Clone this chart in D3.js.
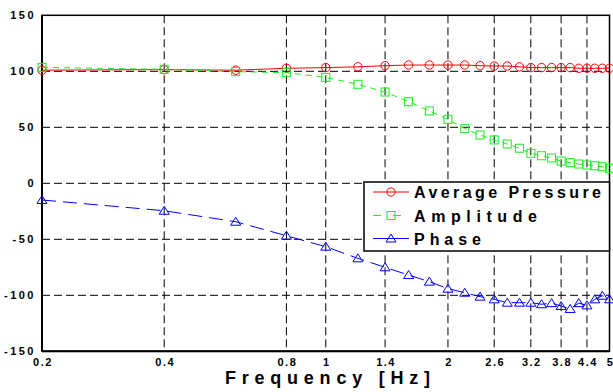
<!DOCTYPE html>
<html>
<head>
<meta charset="utf-8">
<script src="https://cdn.jsdelivr.net/npm/d3@7"></script>
<style>
  body { margin: 0; background: #fff; }
  text { font-family: Arial, "Liberation Sans", sans-serif; font-weight: bold; }
</style>
</head>
<body>
<div id="chart"></div>
<script>
// data
const freq = [0.2, 0.4, 0.6, 0.8, 1.0, 1.2, 1.4, 1.6, 1.8, 2.0, 2.2, 2.4, 2.6,
  2.8, 3.0, 3.2, 3.4, 3.6, 3.8, 4.0, 4.2, 4.4, 4.6, 4.8, 5.0];
const avgPressure = [101, 101.5, 101, 102.7, 103.3, 104, 105, 105.6, 105.6, 105.6,
  105.6, 105, 104.7, 104.7, 104, 103.3, 103.3, 103.3, 103.3, 103.3, 102.7, 102.7, 102.7, 102.7, 102.7];
const amplitude = [103.5, 101.8, 99.7, 98.8, 94.6, 88.4, 81.5, 72.9, 64.6, 57.1,
  48.8, 43.1, 38.7, 35.1, 31.3, 26.8, 24.6, 22.6, 19.9, 18.4, 17.2, 16.3, 15.7, 14.8, 13.4];
const phase = [-14.9, -24.5, -34.3, -46.8, -56.6, -67, -75, -81.9, -87.8, -94.1,
  -97.7, -101.2, -103.6, -106.6, -106.6, -106.6, -108, -107, -109.6, -112.2, -107, -109, -103.6, -100.4, -103.6];
const xTicks = [0.2, 0.4, 0.8, 1, 1.4, 2, 2.6, 3.2, 3.8, 4.4, 5];
const yTicks = [-150, -100, -50, 0, 50, 100, 150];

const width = 613, height = 392;
const svg = d3.select("#chart").append("svg")
  .attr("width", width).attr("height", height);

const x = d3.scaleLog().domain([0.2, 5]).range([42, 609.5]);
const y = d3.scaleLinear().domain([-150, 150]).range([351.3, 15.3]);

// grid
svg.append("g").selectAll("line.vg")
  .data(xTicks.filter(d => d > 0.2 && d < 5))
  .join("line")
  .attr("x1", d => x(d)).attr("x2", d => x(d))
  .attr("y1", y(150)).attr("y2", y(-150))
  .attr("stroke", "#000").attr("stroke-dasharray", "8,4");
svg.append("g").selectAll("line.hg")
  .data(yTicks.filter(d => d > -150 && d < 150))
  .join("line")
  .attr("x1", x(0.2)).attr("x2", x(5))
  .attr("y1", d => y(d)).attr("y2", d => y(d))
  .attr("stroke", "#000").attr("stroke-dasharray", "8,4");

// frame
svg.append("rect")
  .attr("x", x(0.2)).attr("y", y(150))
  .attr("width", x(5) - x(0.2)).attr("height", y(-150) - y(150))
  .attr("fill", "none").attr("stroke", "#000").attr("stroke-width", 1.5);
svg.append("line").attr("x1", x(0.2)).attr("x2", x(0.2))
  .attr("y1", y(150)).attr("y2", y(-150)).attr("stroke", "#000").attr("stroke-width", 2);
svg.append("line").attr("x1", x(0.2)).attr("x2", x(5))
  .attr("y1", y(-150)).attr("y2", y(-150)).attr("stroke", "#000").attr("stroke-width", 2);

// tick labels
svg.append("g").selectAll("text")
  .data(yTicks).join("text")
  .attr("x", 36).attr("y", d => y(d) + 4)
  .attr("text-anchor", "end")
  .attr("font-size", 11).attr("letter-spacing", 2.5)
  .text(d => d);
svg.append("g").selectAll("text")
  .data(xTicks).join("text")
  .attr("x", d => x(d) + 1).attr("y", 366)
  .attr("text-anchor", "middle")
  .attr("font-size", 11).attr("letter-spacing", 1.5)
  .text(d => d);

svg.append("text")
  .attr("x", 225).attr("y", 384)
  .attr("font-size", 18)
  .attr("textLength", 205).attr("lengthAdjust", "spacing")
  .text("Frequency [Hz]");

// series
const series = [
  { name: "Average Pressure", values: avgPressure, color: "#ff0000", dash: null, shape: "circle" },
  { name: "Amplitude", values: amplitude, color: "#19f019", dash: "6,5", shape: "square" },
  { name: "Phase", values: phase, color: "#0000ff", dash: "14,7", shape: "triangle" }
];

const line = d3.line().x(d => x(d[0])).y(d => y(d[1]));

function marker(g, shape, color) {
  if (shape === "circle") {
    g.append("circle").attr("r", 4.2);
  } else if (shape === "square") {
    g.append("rect").attr("x", -4).attr("y", -4).attr("width", 8).attr("height", 8);
  } else {
    g.append("path").attr("d", "M0,-4.5L5,3.5L-5,3.5Z");
  }
  g.selectAll("*").attr("fill", "none").attr("stroke", color).attr("stroke-width", 1);
}

series.forEach(s => {
  const pts = freq.map((f, i) => [f, s.values[i]]);
  svg.append("path")
    .attr("d", line(pts))
    .attr("fill", "none").attr("stroke", s.color).attr("stroke-width", 1)
    .attr("stroke-dasharray", s.dash);
  svg.append("g").selectAll("g")
    .data(pts).join("g")
    .attr("transform", d => `translate(${x(d[0])},${y(d[1])})`)
    .each(function () { marker(d3.select(this), s.shape, s.color); });
});

// legend
const lg = svg.append("g");
lg.append("rect")
  .attr("x", 364).attr("y", 182).attr("width", 609.5 - 364).attr("height", 69)
  .attr("fill", "#fff").attr("stroke", "#000").attr("stroke-width", 1.5);
const rowY = [192, 215.5, 238.5];
const textLen = [187, 123, 67];
series.forEach((s, i) => {
  lg.append("line")
    .attr("x1", 373).attr("x2", 409).attr("y1", rowY[i]).attr("y2", rowY[i])
    .attr("stroke", s.color).attr("stroke-width", 1)
    .attr("stroke-dasharray", s.shape === "square" ? "8,12" : null);
  const m = lg.append("g").attr("transform", `translate(391,${rowY[i]})`);
  marker(m, s.shape, s.color);
  lg.append("text")
    .attr("x", 414).attr("y", rowY[i] + 6)
    .attr("font-size", 16)
    .attr("textLength", textLen[i]).attr("lengthAdjust", "spacing")
    .text(s.name);
});
</script>
</body>
</html>
